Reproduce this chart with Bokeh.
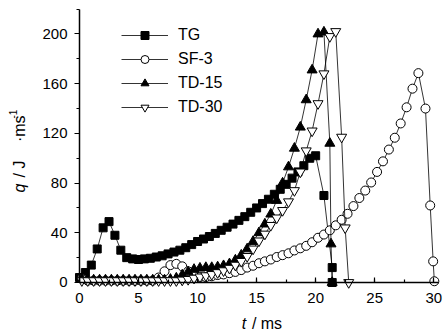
import math
from bokeh.plotting import figure
from bokeh.models import Range1d, SingleIntervalTicker, Legend, LegendItem, Label
from bokeh.embed import file_html
from bokeh.resources import INLINE

# ---- data ----
t_tg = [0.0, 0.5, 1.0, 1.5, 2.0, 2.5, 3.0, 3.5, 4.0, 4.5, 5.0, 5.5, 6.0, 6.5, 7.0, 7.5,
        8.0, 8.5, 9.0, 9.5, 10.0, 10.5, 11.0, 11.5, 12.0, 12.5, 13.0, 13.5, 14.0, 14.5,
        15.0, 15.5, 16.0, 16.5, 17.0, 17.5, 18.0, 18.5, 19.0, 19.5, 20.0, 20.7, 21.4, 21.4]
q_tg = [4, 8, 14, 27, 44, 49, 38, 26, 20, 19, 18.5, 19, 19.5, 20.5, 21.5, 23,
        24.5, 26, 28, 30.5, 33, 35, 37, 39.5, 42, 44.5, 47, 50, 53, 56.5,
        60, 63.5, 67, 71, 75, 79, 84, 89, 94, 100, 102, 70, 12, 0]

t_sf3 = [0.2, 0.7, 1.2, 1.7, 2.2, 2.7, 3.2, 3.7, 4.2, 4.7, 5.2, 5.7, 6.2, 6.7, 7.2, 7.7,
         8.2, 8.7, 9.2, 9.7, 10.2, 10.7, 11.2, 11.7, 12.2, 12.7, 13.2, 13.7, 14.2, 14.7,
         15.2, 15.7, 16.2, 16.7, 17.2, 17.7, 18.2, 18.7, 19.2, 19.7, 20.2, 20.7, 21.2,
         21.7, 22.2, 22.7, 23.2, 23.7, 24.2, 24.7, 25.2, 25.7, 26.2, 26.7, 27.2, 27.7,
         28.2, 28.7, 29.3, 29.7, 29.95, 30.05]
q_sf3 = [3, 1.5, 1.5, 1.5, 1.5, 1.5, 1.5, 1.5, 1.5, 1.5, 1.5, 1.5, 1.5, 4, 9, 14,
         15, 13, 9, 5.6, 4.3, 4.3, 5, 6, 6.5, 7.5, 8.5, 10, 12, 13.5,
         15.5, 17, 18.5, 20.5, 22, 23.5, 25.8, 27.5, 29.5, 32.4, 36, 38.6, 42,
         46, 50.5, 55.3, 61.5, 68, 74, 80.5, 89, 97.5, 107, 116.5, 128, 141,
         156, 168.5, 140, 62, 17, 1]

t_td15 = [0.2, 0.7, 1.2, 1.7, 2.2, 2.7, 3.2, 3.7, 4.2, 4.7, 5.2, 5.7, 6.2, 6.7, 7.2, 7.7,
          8.2, 8.7, 9.2, 9.7, 10.2, 10.7, 11.2, 11.7, 12.2, 12.7, 13.2, 13.7, 14.2, 14.7,
          15.2, 15.7, 16.2, 16.7, 17.2, 17.7, 18.2, 18.7, 19.2, 19.7, 20.2, 20.7,
          21.2, 21.3, 21.4]
q_td15 = [3, 2, 2, 2, 2, 2, 2, 2, 2, 2, 2, 2, 2, 2, 2, 2.5,
          3.5, 6, 8.5, 10.5, 11.5, 12, 12, 12.5, 13.5, 15, 18, 22, 27, 33,
          40, 47, 55, 66, 80, 93, 108, 125, 147, 171, 200, 201.5,
          112, 31, 0]

t_td30 = [0.2, 0.7, 1.2, 1.7, 2.2, 2.7, 3.2, 3.7, 4.2, 4.7, 5.2, 5.7, 6.2, 6.7, 7.2, 7.7,
          8.2, 8.7, 9.2, 9.7, 10.2, 10.7, 11.2, 11.7, 12.2, 12.7, 13.2, 13.7, 14.2, 14.7,
          15.2, 15.7, 16.2, 16.7, 17.2, 17.7, 18.2, 18.7, 19.2, 19.7, 20.2, 20.7, 21.2,
          21.7, 22.2, 22.5, 22.8]
q_td30 = [1.5, 1.5, 1.5, 1.5, 1.5, 1.5, 1.5, 1.5, 1.5, 1.5, 1.5, 1.5, 1.5, 1.5, 1.5, 1.5,
          1.5, 2, 2.5, 3.5, 4.5, 5.5, 6.5, 8, 9.5, 11.5, 14, 17, 21, 27,
          33.5, 39, 46, 52, 58, 65, 74, 89, 106, 122, 144, 168, 198,
          202, 117, 44, 0]

series_names = ["TG", "SF-3", "TD-15", "TD-30"]
x_ticks_interval = 5
y_ticks_interval = 40
x_axis_bounds = (0, 30.4)
y_axis_bounds = (0, 220)

FONT = "Liberation Sans"

# The frame fills the canvas; axes are drawn at fixed data locations inside it,
# so that the axis titles (labels) and edge markers are not clipped.
p = figure(width=446, height=333, output_backend="svg", toolbar_location=None,
           x_range=Range1d(-6.69, 31.08), y_range=Range1d(-41.05, 226.96),
           min_border_left=0, min_border_right=0, min_border_top=0, min_border_bottom=0)
p.outline_line_color = None
p.grid.visible = False
p.background_fill_color = "white"
p.border_fill_color = "white"

p.xaxis.fixed_location = 0
p.yaxis.fixed_location = 0
p.xaxis.bounds = x_axis_bounds
p.yaxis.bounds = y_axis_bounds
p.xaxis.ticker = SingleIntervalTicker(interval=x_ticks_interval, num_minor_ticks=2)
p.yaxis.ticker = SingleIntervalTicker(interval=y_ticks_interval, num_minor_ticks=2)
for ax in (p.xaxis[0], p.yaxis[0]):
    ax.axis_line_color = "black"
    ax.axis_line_width = 1.5
    ax.major_tick_line_color = "black"
    ax.minor_tick_line_color = "black"
    ax.major_tick_line_width = 1.2
    ax.minor_tick_line_width = 1.2
    ax.major_label_text_font = FONT
    ax.major_label_text_font_size = "15px"
    ax.major_label_text_color = "black"
p.xaxis.major_tick_in = 5
p.xaxis.major_tick_out = 0
p.xaxis.minor_tick_in = 3
p.xaxis.minor_tick_out = 0
p.xaxis.major_label_standoff = 11
p.yaxis.major_tick_in = 0
p.yaxis.major_tick_out = 5
p.yaxis.minor_tick_in = 0
p.yaxis.minor_tick_out = 3
p.yaxis.major_label_standoff = 7

lw = 0.8
r_tg_l = p.line(t_tg, q_tg, line_color="black", line_width=lw)
r_tg_m = p.scatter(t_tg, q_tg, marker="square", size=8, fill_color="black", line_color="black")
r_sf_l = p.line(t_sf3, q_sf3, line_color="black", line_width=lw)
r_sf_m = p.scatter(t_sf3, q_sf3, marker="circle", size=9, fill_color="white", line_color="black", line_width=1)
r_15_l = p.line(t_td15, q_td15, line_color="black", line_width=lw)
r_15_m = p.scatter(t_td15, q_td15, marker="triangle", size=10, fill_color="black", line_color="black")
r_30_l = p.line(t_td30, q_td30, line_color="black", line_width=lw)
r_30_m = p.scatter(t_td30, q_td30, marker="inverted_triangle", size=10, fill_color="white", line_color="black", line_width=1)

legend = Legend(items=[
    LegendItem(label=series_names[0], renderers=[r_tg_l, r_tg_m]),
    LegendItem(label=series_names[1], renderers=[r_sf_l, r_sf_m]),
    LegendItem(label=series_names[2], renderers=[r_15_l, r_15_m]),
    LegendItem(label=series_names[3], renderers=[r_30_l, r_30_m]),
], location=(121, 216))
legend.background_fill_alpha = 0
legend.border_line_color = None
legend.padding = 0
legend.margin = 0
legend.spacing = 4
legend.glyph_width = 47
legend.glyph_height = 20
legend.label_height = 20
legend.label_standoff = 10
legend.label_text_font = FONT
legend.label_text_font_size = "16px"
legend.label_text_color = "black"
p.add_layout(legend, "center")

# axis titles as labels (italic symbol + upright unit)
lab_kw = dict(text_font=FONT, text_color="black", text_baseline="middle", text_align="left")
p.add_layout(Label(x=13.75, y=-33, text="t", text_font_style="italic", text_font_size="16px", **lab_kw))
p.add_layout(Label(x=14.6, y=-33, text="/ ms", text_font_size="16px", **lab_kw))
p.add_layout(Label(x=-5.1, y=72.4, text="q", text_font_style="italic", text_font_size="16px",
                   angle=math.pi / 2, **lab_kw))
p.add_layout(Label(x=-5.1, y=84.5, text="/ J", text_font_size="16px", angle=math.pi / 2, **lab_kw))
p.add_layout(Label(x=-5.1, y=113.0, text="·ms", text_font_size="16px", angle=math.pi / 2, **lab_kw))
p.add_layout(Label(x=-5.6, y=132.0, text="-1", text_font_size="10px", angle=math.pi / 2, **lab_kw))

open("out.html", "w").write(file_html(p, INLINE))
